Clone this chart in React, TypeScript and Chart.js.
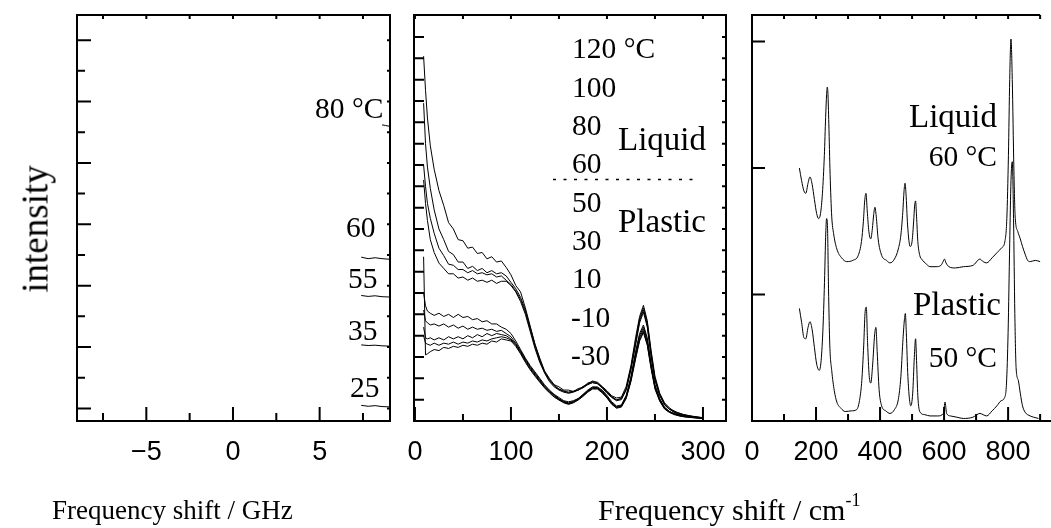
import React, { useEffect, useRef } from 'react';
import { Chart, registerables } from 'chart.js';

Chart.register(...registerables);

// ---------- Panel 1: Brillouin, frequency shift / GHz ----------
const ghzMajorTicks = [-5, 0, 5];
const ghzMinorTicks = [-7.5, -2.5, 2.5, 7.5];
const ghzYMajor = [0, 2, 4, 6, 8, 10, 12];
const ghzYMinor = [1, 3, 5, 7, 9, 11];
const ghzX80 = [8.6, 8.8, 9.05];
const ghzY80 = [9.24, 9.22, 9.19];
const ghzX = [7.4, 7.8, 8.2, 8.6, 9.05];
const ghzY60 = [4.93, 4.88, 4.91, 4.88, 4.86];
const ghzY55 = [3.68, 3.65, 3.67, 3.64, 3.63];
const ghzY35 = [2.07, 2.05, 2.06, 2.04, 2.03];
const ghzY25 = [0.1, 0.07, 0.09, 0.06, 0.05];
const ghzTempLabels = ['80 °C', '60', '55', '35', '25'];

// ---------- Panel 2: low-frequency Raman, cm-1 ----------
const lowMajorTicks = [0, 100, 200, 300];
const lowMinorTicks = [50, 150, 250];
const lowYTicks = [1, 2, 3, 4, 5, 6, 7, 8, 9, 10, 11, 12, 13, 14, 15, 16, 17, 18];
const lowX = [9, 11, 13, 16, 20, 25, 30, 35, 40, 45, 50, 55, 60, 65, 70, 75, 80, 85, 90, 95, 100, 105, 110, 115, 120, 125, 130, 135, 140, 145, 150, 155, 160, 165, 170, 175, 180, 185, 190, 195, 200, 205, 210, 215, 220, 225, 230, 234, 238, 242, 246, 250, 255, 260, 265, 270, 275, 280, 290, 300];
const liquid120 = [17.1, 15.5, 14.2, 12.9, 11.8, 10.8, 10.1, 9.3, 9.0, 8.5, 8.45, 8.1, 8.15, 7.85, 7.9, 7.6, 7.7, 7.45, 7.5, 7.2, 6.85, 6.35, 6.05, 5.3, 4.45, 3.6, 2.95, 2.35, 2.0, 1.7, 1.6, 1.45, 1.45, 1.38, 1.52, 1.58, 1.78, 1.85, 1.82, 1.62, 1.42, 1.18, 1.08, 1.12, 1.62, 2.6, 3.95, 4.9, 5.42, 4.7, 3.3, 2.1, 1.3, 0.85, 0.62, 0.45, 0.38, 0.3, 0.22, 0.15];
const liquid100 = [14.9, 13.0, 11.9, 10.9, 9.9, 9.0, 8.5, 7.95, 7.8, 7.45, 7.45, 7.15, 7.25, 7.05, 7.15, 6.95, 7.05, 6.9, 6.95, 6.8, 6.5, 6.2, 5.8, 5.2, 4.4, 3.6, 2.9, 2.3, 1.95, 1.68, 1.5, 1.42, 1.32, 1.38, 1.45, 1.62, 1.72, 1.88, 1.78, 1.6, 1.35, 1.12, 1.0, 1.06, 1.5, 2.5, 3.8, 4.8, 5.3, 4.6, 3.2, 2.0, 1.25, 0.8, 0.55, 0.48, 0.33, 0.3, 0.18, 0.16];
const liquid80 = [12.0, 11.0, 10.2, 9.5, 8.8, 8.1, 7.75, 7.35, 7.3, 7.1, 7.1, 6.95, 7.05, 6.9, 6.95, 6.85, 6.9, 6.75, 6.8, 6.6, 6.4, 6.1, 5.7, 5.1, 4.3, 3.5, 2.8, 2.3, 1.9, 1.65, 1.48, 1.38, 1.36, 1.4, 1.45, 1.6, 1.74, 1.8, 1.75, 1.58, 1.35, 1.15, 0.98, 1.05, 1.48, 2.5, 3.7, 4.7, 5.2, 4.5, 3.1, 1.95, 1.2, 0.78, 0.57, 0.4, 0.36, 0.28, 0.2, 0.14];
const liquid60 = [11.3, 10.2, 9.4, 8.5, 7.9, 7.4, 7.15, 6.9, 6.9, 6.7, 6.75, 6.6, 6.7, 6.55, 6.6, 6.5, 6.6, 6.45, 6.55, 6.55, 6.35, 6.05, 5.6, 5.0, 4.2, 3.4, 2.75, 2.25, 1.85, 1.6, 1.45, 1.35, 1.3, 1.35, 1.45, 1.55, 1.7, 1.8, 1.75, 1.55, 1.3, 1.1, 0.95, 1.0, 1.45, 2.4, 3.6, 4.6, 5.1, 4.4, 3.0, 1.9, 1.2, 0.75, 0.55, 0.42, 0.3, 0.26, 0.19, 0.16];
const plastic50 = [6.0, 5.4, 5.15, 5.05, 4.95, 5.05, 4.9, 5.0, 4.85, 5.0, 4.85, 4.9, 4.75, 4.8, 4.65, 4.7, 4.55, 4.55, 4.4, 4.3, 4.1, 3.75, 3.35, 2.95, 2.6, 2.3, 2.0, 1.7, 1.45, 1.25, 1.1, 0.95, 0.9, 0.95, 1.05, 1.25, 1.45, 1.6, 1.6, 1.45, 1.2, 0.9, 0.7, 0.75, 1.2, 2.1, 3.3, 4.1, 4.5, 3.9, 2.7, 1.7, 1.05, 0.65, 0.45, 0.35, 0.3, 0.25, 0.2, 0.12];
const plastic30 = [5.2, 4.7, 4.6, 4.5, 4.55, 4.45, 4.55, 4.4, 4.5, 4.35, 4.45, 4.3, 4.4, 4.3, 4.35, 4.25, 4.3, 4.2, 4.25, 4.1, 3.95, 3.65, 3.3, 2.9, 2.55, 2.25, 1.95, 1.65, 1.42, 1.22, 1.05, 0.92, 0.85, 0.92, 1.05, 1.22, 1.42, 1.58, 1.56, 1.4, 1.15, 0.85, 0.68, 0.72, 1.15, 2.0, 3.2, 4.0, 4.4, 3.8, 2.6, 1.65, 1.0, 0.62, 0.45, 0.33, 0.28, 0.22, 0.18, 0.12];
const plastic10 = [4.4, 3.9, 3.85, 3.9, 3.8, 3.9, 3.8, 3.95, 3.85, 3.95, 3.85, 4.0, 3.9, 4.05, 3.95, 4.1, 4.0, 4.1, 4.05, 4.0, 3.85, 3.6, 3.25, 2.85, 2.5, 2.2, 1.9, 1.6, 1.38, 1.2, 1.02, 0.9, 0.82, 0.9, 1.02, 1.2, 1.4, 1.55, 1.55, 1.38, 1.12, 0.82, 0.65, 0.7, 1.1, 1.95, 3.1, 3.9, 4.3, 3.7, 2.55, 1.6, 0.98, 0.6, 0.42, 0.34, 0.26, 0.22, 0.17, 0.13];
const plasticM10 = [4.0, 3.65, 3.6, 3.55, 3.65, 3.55, 3.65, 3.6, 3.7, 3.6, 3.7, 3.65, 3.75, 3.7, 3.8, 3.75, 3.85, 3.9, 3.95, 3.9, 3.8, 3.55, 3.2, 2.8, 2.45, 2.15, 1.85, 1.58, 1.35, 1.15, 1.0, 0.88, 0.8, 0.88, 1.0, 1.18, 1.38, 1.52, 1.52, 1.35, 1.1, 0.8, 0.62, 0.68, 1.08, 1.9, 3.0, 3.8, 4.2, 3.6, 2.5, 1.55, 0.95, 0.58, 0.42, 0.32, 0.25, 0.2, 0.16, 0.12];
const plasticM30 = [7.7, 3.1, 3.15, 3.25, 3.35, 3.3, 3.45, 3.4, 3.5, 3.45, 3.55, 3.5, 3.6, 3.55, 3.65, 3.6, 3.75, 3.7, 3.85, 3.8, 3.75, 3.5, 3.15, 2.75, 2.4, 2.1, 1.82, 1.55, 1.32, 1.12, 0.98, 0.85, 0.78, 0.85, 0.98, 1.15, 1.35, 1.5, 1.5, 1.32, 1.08, 0.78, 0.6, 0.65, 1.05, 1.85, 2.95, 3.75, 4.15, 3.55, 2.45, 1.5, 0.92, 0.56, 0.4, 0.3, 0.24, 0.2, 0.15, 0.11];
const lowTempLabels = ['120 °C', '100', '80', '60', '50', '30', '10', '-10', '-30'];

// ---------- Panel 3: Raman spectra, cm-1 ----------
const highMajorTicks = [0, 200, 400, 600, 800];
const highMinorTicks = [100, 300, 500, 700, 900];
const highYTicks = [1, 2, 3];
const liquidX = [148, 155, 162, 168, 175, 181, 188, 195, 202, 208, 214, 220, 226, 230, 233, 235, 237, 240, 244, 249, 255, 265, 280, 296, 315, 332, 342, 348, 352, 356, 360, 365, 371, 376, 380, 384, 388, 394, 405, 420, 431, 445, 457, 465, 471, 475, 478, 481, 486, 494, 500, 505, 508, 511, 514, 518, 524, 530, 545, 556, 575, 590, 597, 601, 606, 615, 635, 660, 690, 712, 722, 733, 750, 765, 780, 790, 796, 801, 805, 809, 813, 818, 822, 830, 838, 845, 853, 861, 869, 885, 900];
const liquidY = [2.0, 1.9, 1.82, 1.8, 1.88, 1.93, 1.87, 1.75, 1.64, 1.6, 1.64, 1.8, 2.1, 2.4, 2.58, 2.64, 2.6, 2.35, 1.95, 1.62, 1.48, 1.36, 1.29, 1.26, 1.27, 1.31, 1.42, 1.58, 1.74, 1.8, 1.66, 1.5, 1.44, 1.52, 1.63, 1.69, 1.62, 1.44, 1.31, 1.27, 1.25, 1.28, 1.36, 1.47, 1.65, 1.82, 1.88, 1.8, 1.55, 1.38, 1.42, 1.58, 1.7, 1.74, 1.62, 1.42, 1.31, 1.28, 1.24, 1.22, 1.22, 1.23, 1.26, 1.28, 1.25, 1.22, 1.21, 1.22, 1.23, 1.28, 1.26, 1.25, 1.29, 1.33, 1.37, 1.42, 1.6, 2.1, 2.7, 3.02, 2.7, 2.0, 1.62, 1.5, 1.44, 1.38, 1.32, 1.27, 1.26, 1.27, 1.26];
const plasticX = [148, 155, 162, 168, 175, 181, 188, 195, 202, 210, 216, 222, 227, 230, 233, 236, 239, 243, 249, 257, 265, 278, 291, 310, 327, 337, 343, 349, 353, 357, 361, 366, 371, 377, 383, 387, 391, 397, 405, 418, 431, 445, 457, 465, 471, 476, 479, 482, 487, 496, 502, 507, 511, 514, 518, 525, 540, 556, 580, 598, 603, 608, 620, 640, 660, 690, 712, 722, 733, 750, 765, 778, 788, 795, 800, 805, 809, 813, 817, 821, 825, 832, 838, 845, 853, 869, 880, 895];
const plasticY = [0.89, 0.78, 0.66, 0.65, 0.74, 0.785, 0.72, 0.58, 0.45, 0.4, 0.48, 0.75, 1.15, 1.45, 1.6, 1.52, 1.05, 0.6, 0.4, 0.24, 0.15, 0.1, 0.075, 0.08, 0.09, 0.18, 0.32, 0.6, 0.85, 0.9, 0.62, 0.36, 0.3, 0.45, 0.68, 0.74, 0.55, 0.25, 0.12, 0.08, 0.06, 0.09, 0.17, 0.35, 0.62, 0.8, 0.85, 0.7, 0.35, 0.12, 0.22, 0.5, 0.65, 0.48, 0.2, 0.07, 0.05, 0.04, 0.04, 0.06, 0.15, 0.06, 0.04, 0.03, 0.02, 0.03, 0.06, 0.05, 0.04, 0.08, 0.12, 0.16, 0.18, 0.3, 0.7, 1.4, 1.9, 2.05, 1.6, 0.85, 0.42, 0.32, 0.22, 0.12, 0.07, 0.04, 0.03, 0.02];
const highLabels = ['Liquid', '60 °C', 'Plastic', '50 °C'];

const SERIF = "'Liberation Serif', 'Times New Roman', Times, serif";
const SANS = "'Liberation Sans', Arial, sans-serif";

type Note = { text: string; x: number; y: number; size: number; align?: CanvasTextAlign };
type Panel = {
  canvasLeft: number;
  width: number;
  padL: number;
  padR: number;
  xMin: number; xMax: number; yMin: number; yMax: number;
  step: number;
  majors: number[]; minors: number[];
  yMajors: number[]; yMinors: number[];
  lens: { bMaj: number; bMin: number; lMaj: number; lMin: number; top: number; right: number };
  rightBorder: boolean;
  topEndValue?: number;
  smooth: boolean;
  series: { x: number[]; y: number[] }[];
  notes: Note[];
  dotted?: { x1: number; x2: number; y: number };
};

const fmtTick = (v: number) => (v < 0 ? '\u2212' + Math.abs(v) : String(v));

const panels: Panel[] = [
  {
    canvasLeft: 0, width: 400, padL: 77, padR: 10,
    xMin: -9.0, xMax: 9.06, yMin: -0.41, yMax: 12.82, step: 2.5,
    majors: ghzMajorTicks, minors: ghzMinorTicks, yMajors: ghzYMajor, yMinors: ghzYMinor,
    lens: { bMaj: 14, bMin: 8, lMaj: 14, lMin: 8, top: 4, right: 3 },
    rightBorder: true, smooth: false,
    series: [
      { x: ghzX80, y: ghzY80 },
      { x: ghzX, y: ghzY60 },
      { x: ghzX, y: ghzY55 },
      { x: ghzX, y: ghzY35 },
      { x: ghzX, y: ghzY25 },
    ],
    notes: [
      { text: ghzTempLabels[0], x: 315, y: 118, size: 29.5 },
      { text: ghzTempLabels[1], x: 346, y: 237, size: 29.5 },
      { text: ghzTempLabels[2], x: 348, y: 288, size: 29.5 },
      { text: ghzTempLabels[3], x: 348, y: 340, size: 29.5 },
      { text: ghzTempLabels[4], x: 350, y: 397, size: 29.5 },
    ],
  },
  {
    canvasLeft: 400, width: 340, padL: 14, padR: 14,
    xMin: -1, xMax: 324, yMin: 0, yMax: 19.03, step: 50,
    majors: lowMajorTicks, minors: lowMinorTicks, yMajors: lowYTicks, yMinors: [],
    lens: { bMaj: 14, bMin: 7, lMaj: 10, lMin: 10, top: 4, right: 4 },
    rightBorder: true, smooth: false,
    series: [liquid120, liquid100, liquid80, liquid60, plastic50, plastic30, plastic10, plasticM10, plasticM30].map((y) => ({ x: lowX, y })),
    notes: [
      ...lowTempLabels.map((t, i) => ({ text: t, x: t.startsWith('-') ? 571 : 572, y: 58.3 + i * 38.35, size: 29.5 })),
      { text: 'Liquid', x: 618, y: 150, size: 33 },
      { text: 'Plastic', x: 618, y: 232, size: 33 },
    ],
    dotted: { x1: 553, x2: 700, y: 179.5 },
  },
  {
    canvasLeft: 740, width: 311, padL: 12, padR: 0,
    xMin: 0, xMax: 934, yMin: 0, yMax: 3.21, step: 100,
    majors: highMajorTicks, minors: highMinorTicks, yMajors: highYTicks, yMinors: [],
    lens: { bMaj: 14, bMin: 7, lMaj: 13, lMin: 13, top: 4, right: 0 },
    rightBorder: false, topEndValue: 900, smooth: true,
    series: [
      { x: liquidX, y: liquidY },
      { x: plasticX, y: plasticY },
    ],
    notes: [
      { text: highLabels[0], x: 997, y: 127, size: 33, align: 'right' },
      { text: highLabels[1], x: 997, y: 166, size: 29.5, align: 'right' },
      { text: highLabels[2], x: 1001, y: 315, size: 33, align: 'right' },
      { text: highLabels[3], x: 997, y: 367, size: 29.5, align: 'right' },
    ],
  },
];

function decoPlugin(p: Panel) {
  return {
    id: 'deco',
    afterDraw(chart: any) {
      const ctx: CanvasRenderingContext2D = chart.ctx;
      const { left, right, top, bottom } = chart.chartArea;
      const xs = chart.scales.x;
      const ys = chart.scales.y;
      ctx.save();
      ctx.strokeStyle = '#000';
      ctx.lineWidth = 2;
      ctx.beginPath();
      ctx.moveTo(left, top - 1);
      ctx.lineTo(left, bottom + 1);
      ctx.moveTo(left - 1, bottom);
      ctx.lineTo(right + (p.rightBorder ? 1 : 0), bottom);
      const topEnd = p.topEndValue !== undefined ? xs.getPixelForValue(p.topEndValue) : right + 1;
      ctx.moveTo(left - 1, top);
      ctx.lineTo(topEnd, top);
      if (p.rightBorder) {
        ctx.moveTo(right, top - 1);
        ctx.lineTo(right, bottom + 1);
      }
      const xt = (vals: number[], len: number) => {
        vals.forEach((v) => {
          const px = xs.getPixelForValue(v);
          ctx.moveTo(px, bottom);
          ctx.lineTo(px, bottom - len);
          if (p.lens.top > 0 && px <= topEnd + 1) {
            ctx.moveTo(px, top);
            ctx.lineTo(px, top + p.lens.top);
          }
        });
      };
      xt(p.majors.filter((v) => v > p.xMin + 0.5), p.lens.bMaj);
      xt(p.minors, p.lens.bMin);
      const yt = (vals: number[], len: number) => {
        vals.forEach((v) => {
          const py = ys.getPixelForValue(v);
          ctx.moveTo(left, py);
          ctx.lineTo(left + len, py);
          if (p.rightBorder && p.lens.right > 0) {
            ctx.moveTo(right, py);
            ctx.lineTo(right - p.lens.right, py);
          }
        });
      };
      yt(p.yMajors, p.lens.lMaj);
      yt(p.yMinors, p.lens.lMin);
      ctx.stroke();

      if (p.dotted) {
        ctx.beginPath();
        ctx.lineWidth = 1.5;
        ctx.setLineDash([3, 7.5]);
        ctx.moveTo(p.dotted.x1 - p.canvasLeft, p.dotted.y);
        ctx.lineTo(p.dotted.x2 - p.canvasLeft, p.dotted.y);
        ctx.stroke();
        ctx.setLineDash([]);
      }

      ctx.fillStyle = '#000';
      ctx.textBaseline = 'alphabetic';
      p.notes.forEach((n) => {
        ctx.font = `${n.size}px ${SERIF}`;
        ctx.textAlign = n.align || 'left';
        ctx.fillText(n.text, n.x - p.canvasLeft, n.y);
      });
      ctx.restore();
    },
  };
}

function PanelChart({ p }: { p: Panel }) {
  const ref = useRef<HTMLCanvasElement | null>(null);
  useEffect(() => {
    if (!ref.current) return;
    const chart = new Chart(ref.current, {
      type: 'line',
      data: {
        datasets: p.series.map((s) => ({
          data: s.x.map((x, i) => ({ x, y: s.y[i] })),
          borderColor: '#000',
          borderWidth: 1,
          pointRadius: 0,
          fill: false,
          tension: 0,
          cubicInterpolationMode: p.smooth ? 'monotone' : 'default',
        })),
      },
      options: {
        animation: false,
        responsive: false,
        maintainAspectRatio: false,
        devicePixelRatio: 1,
        events: [],
        layout: { padding: { left: p.padL, right: p.padR, top: 15, bottom: 0 } },
        plugins: { legend: { display: false }, tooltip: { enabled: false }, title: { display: false } },
        scales: {
          x: {
            type: 'linear',
            position: 'bottom',
            min: p.xMin,
            max: p.xMax,
            grid: { display: false, drawTicks: false },
            border: { display: false },
            ticks: {
              stepSize: p.step,
              includeBounds: false,
              autoSkip: false,
              maxRotation: 0,
              padding: 15,
              color: '#000',
              font: { family: SANS, size: 27 },
              callback: (v: any) => (p.majors.includes(Number(v)) ? fmtTick(Number(v)) : ''),
            },
            afterFit: (s: any) => {
              s.height = 107;
              s.paddingLeft = 0;
              s.paddingRight = 0;
            },
          },
          y: { type: 'linear', display: false, min: p.yMin, max: p.yMax },
        },
      } as any,
      plugins: [decoPlugin(p)],
    });
    return () => chart.destroy();
  }, [p]);
  return (
    <canvas
      ref={ref}
      width={p.width}
      height={528}
      style={{ position: 'absolute', left: p.canvasLeft, top: 0, width: p.width, height: 528 }}
    />
  );
}

export default function App() {
  const titleStyle: React.CSSProperties = {
    position: 'absolute',
    fontFamily: SERIF,
    fontSize: 30,
    lineHeight: '30px',
    whiteSpace: 'nowrap',
    color: '#000',
  };
  return (
    <div style={{ position: 'absolute', left: 0, top: 0, width: 1051, height: 528, background: '#fff', overflow: 'hidden' }}>
      {panels.map((p, i) => (
        <PanelChart key={i} p={p} />
      ))}
      <div
        style={{
          ...titleStyle,
          fontSize: 37,
          lineHeight: '37px',
          left: 35,
          top: 229,
          transform: 'translate(-50%, -50%) rotate(-90deg)',
        }}
      >
        intensity
      </div>
      <div style={{ ...titleStyle, fontSize: 27, lineHeight: '27px', left: 52, top: 497 }}>Frequency shift / GHz</div>
      <div style={{ ...titleStyle, left: 598, top: 495 }}>
        Frequency shift / cm<sup style={{ fontSize: 18, verticalAlign: 'top', position: 'relative', top: -10 }}>-1</sup>
      </div>
    </div>
  );
}
